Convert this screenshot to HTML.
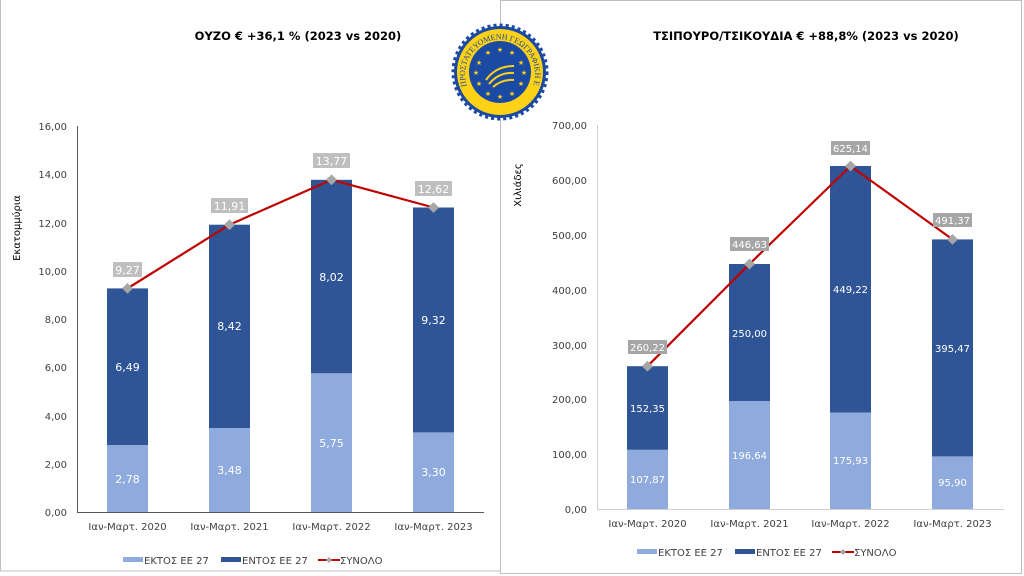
<!DOCTYPE html>
<html><head><meta charset="utf-8"><style>
body{margin:0;background:#fff;}
svg{display:block;font-family:"DejaVu Sans","Liberation Sans",sans-serif;}
</style></head><body>
<svg width="1024" height="576" viewBox="0 0 1024 576">
<rect x="0.5" y="-1" width="500" height="572" fill="none" stroke="#bfbfbf"/>
<rect x="500.5" y="0.5" width="521" height="573" fill="#fff" stroke="#bfbfbf"/>

<!-- LEFT CHART -->
<text x="298" y="40" text-anchor="middle" font-size="11.5" font-weight="bold" fill="#000">ΟΥΖΟ € +36,1 % (2023 vs 2020)</text>
<text transform="translate(20,228) rotate(-90)" text-anchor="middle" font-size="10" fill="#000">Εκατομμύρια</text>
<g font-size="10" fill="#404040" text-anchor="end">
<text x="67" y="516">0,00</text><text x="67" y="468">2,00</text><text x="67" y="420">4,00</text><text x="67" y="371">6,00</text><text x="67" y="323">8,00</text><text x="67" y="275">10,00</text><text x="67" y="227">12,00</text><text x="67" y="178">14,00</text><text x="67" y="130">16,00</text>
</g>
<line x1="77.5" y1="126" x2="77.5" y2="512" stroke="#595959"/>
<line x1="77" y1="512.5" x2="484" y2="512.5" stroke="#595959"/>
<g>
<rect x="107" y="445" width="41" height="67" fill="#8faadc"/><rect x="107" y="288.4" width="41" height="156.6" fill="#2f5597"/>
<rect x="209" y="428" width="41" height="84" fill="#8faadc"/><rect x="209" y="224.7" width="41" height="203.3" fill="#2f5597"/>
<rect x="311" y="373.3" width="41" height="138.7" fill="#8faadc"/><rect x="311" y="179.8" width="41" height="193.5" fill="#2f5597"/>
<rect x="413" y="432.4" width="41" height="79.6" fill="#8faadc"/><rect x="413" y="207.5" width="41" height="224.9" fill="#2f5597"/>
</g>
<g font-size="11" fill="#fff" text-anchor="middle">
<text x="127.5" y="483">2,78</text><text x="127.5" y="371">6,49</text>
<text x="229.5" y="474">3,48</text><text x="229.5" y="330">8,42</text>
<text x="331.5" y="447">5,75</text><text x="331.5" y="281">8,02</text>
<text x="433.5" y="476">3,30</text><text x="433.5" y="324">9,32</text>
</g>
<polyline points="127.5,288.4 229.5,224.7 331.5,179.8 433.5,207.5" fill="none" stroke="#c00000" stroke-width="2.2"/>
<g fill="#a6a6a6">
<path d="M127.5 283l5.5 5.4-5.5 5.4-5.5-5.4z"/><path d="M229.5 219.3l5.5 5.4-5.5 5.4-5.5-5.4z"/><path d="M331.5 174.4l5.5 5.4-5.5 5.4-5.5-5.4z"/><path d="M433.5 202.1l5.5 5.4-5.5 5.4-5.5-5.4z"/>
</g>
<g fill="#bfbfbf">
<rect x="113" y="262" width="29" height="15"/><rect x="211" y="198" width="37" height="15"/><rect x="313" y="153" width="37" height="15"/><rect x="415" y="181" width="37" height="15"/>
</g>
<g font-size="11" fill="#fff" text-anchor="middle">
<text x="127.5" y="274">9,27</text><text x="229.5" y="210">11,91</text><text x="331.5" y="165">13,77</text><text x="433.5" y="193">12,62</text>
</g>
<g font-size="10" fill="#404040" text-anchor="middle">
<text x="127.5" y="530">Ιαν-Μαρτ. 2020</text><text x="229.5" y="530">Ιαν-Μαρτ. 2021</text><text x="331.5" y="530">Ιαν-Μαρτ. 2022</text><text x="433.5" y="530">Ιαν-Μαρτ. 2023</text>
</g>
<g font-size="10" fill="#404040">
<rect x="123" y="557" width="20" height="5" fill="#8faadc"/><text x="144" y="564">ΕΚΤΟΣ ΕΕ 27</text>
<rect x="221" y="557" width="20" height="5" fill="#2f5597"/><text x="242" y="564">ΕΝΤΟΣ ΕΕ 27</text>
<line x1="318" y1="560" x2="340" y2="560" stroke="#c00000" stroke-width="2"/><path d="M329 557l3 3-3 3-3-3z" fill="#a6a6a6"/><text x="340" y="564">ΣΥΝΟΛΟ</text>
</g>

<!-- RIGHT CHART -->
<text x="806" y="40" text-anchor="middle" font-size="11.5" font-weight="bold" fill="#000">ΤΣΙΠΟΥΡΟ/ΤΣΙΚΟΥΔΙΑ € +88,8% (2023 vs 2020)</text>
<text transform="translate(521,185) rotate(-90)" text-anchor="middle" font-size="10" fill="#000">Χιλιάδες</text>
<g font-size="10" fill="#404040" text-anchor="end">
<text x="587" y="513">0,00</text><text x="587" y="458">100,00</text><text x="587" y="403">200,00</text><text x="587" y="349">300,00</text><text x="587" y="294">400,00</text><text x="587" y="239">500,00</text><text x="587" y="184">600,00</text><text x="587" y="129">700,00</text>
</g>
<line x1="597.5" y1="125" x2="597.5" y2="509" stroke="#d0d0d0"/>
<line x1="597" y1="509.5" x2="1004" y2="509.5" stroke="#d0d0d0"/>
<g>
<rect x="627" y="449.8" width="41" height="59.2" fill="#8faadc"/><rect x="627" y="366.2" width="41" height="83.6" fill="#2f5597"/>
<rect x="729" y="401.1" width="41" height="107.9" fill="#8faadc"/><rect x="729" y="264" width="41" height="137.1" fill="#2f5597"/>
<rect x="830" y="412.5" width="41" height="96.5" fill="#8faadc"/><rect x="830" y="166" width="41" height="246.5" fill="#2f5597"/>
<rect x="932" y="456.4" width="41" height="52.6" fill="#8faadc"/><rect x="932" y="239.4" width="41" height="217" fill="#2f5597"/>
</g>
<g font-size="10" fill="#fff" text-anchor="middle">
<text x="647.5" y="483">107,87</text><text x="647.5" y="412">152,35</text>
<text x="749.5" y="459">196,64</text><text x="749.5" y="337">250,00</text>
<text x="850.5" y="464">175,93</text><text x="850.5" y="293">449,22</text>
<text x="952.5" y="486">95,90</text><text x="952.5" y="352">395,47</text>
</g>
<polyline points="647.5,366.2 749.5,264 850.5,166 952.5,239.4" fill="none" stroke="#c00000" stroke-width="2.2"/>
<g fill="#a6a6a6">
<path d="M647.5 360.8l5.5 5.4-5.5 5.4-5.5-5.4z"/><path d="M749.5 258.6l5.5 5.4-5.5 5.4-5.5-5.4z"/><path d="M850.5 160.6l5.5 5.4-5.5 5.4-5.5-5.4z"/><path d="M952.5 234l5.5 5.4-5.5 5.4-5.5-5.4z"/>
</g>
<g fill="#a6a6a6">
<rect x="628" y="340" width="39" height="14"/><rect x="730" y="237" width="39" height="14"/><rect x="831" y="141" width="39" height="14"/><rect x="933" y="213" width="39" height="14"/>
</g>
<g font-size="10" fill="#fff" text-anchor="middle">
<text x="647.5" y="351">260,22</text><text x="749.5" y="248">446,63</text><text x="850.5" y="152">625,14</text><text x="952.5" y="224">491,37</text>
</g>
<g font-size="10" fill="#404040" text-anchor="middle">
<text x="647.5" y="527">Ιαν-Μαρτ. 2020</text><text x="749.5" y="527">Ιαν-Μαρτ. 2021</text><text x="850.5" y="527">Ιαν-Μαρτ. 2022</text><text x="952.5" y="527">Ιαν-Μαρτ. 2023</text>
</g>
<g font-size="10" fill="#404040">
<rect x="637" y="549" width="20" height="5" fill="#8faadc"/><text x="658" y="556">ΕΚΤΟΣ ΕΕ 27</text>
<rect x="735" y="549" width="20" height="5" fill="#2f5597"/><text x="756" y="556">ΕΝΤΟΣ ΕΕ 27</text>
<line x1="832" y1="552" x2="854" y2="552" stroke="#c00000" stroke-width="2"/><path d="M843 549l3 3-3 3-3-3z" fill="#a6a6a6"/><text x="854" y="556">ΣΥΝΟΛΟ</text>
</g>

<!-- LOGO -->
<g transform="translate(500,72)">
<circle r="46" fill="#1a4aa3" stroke="#1a4aa3" stroke-width="5" stroke-dasharray="3 3"/>
<circle r="43" fill="#fcd116"/>
<circle r="31" fill="#1a4aa3"/>
<g fill="#fcd116" font-size="7" text-anchor="middle">
<text x="0" y="-20">★</text><text x="12" y="-17">★</text><text x="-12" y="-17">★</text><text x="21" y="-7">★</text><text x="-21" y="-7">★</text><text x="24" y="3">★</text><text x="-24" y="3">★</text><text x="21" y="14">★</text><text x="-21" y="14">★</text><text x="12" y="24">★</text><text x="-12" y="24">★</text><text x="0" y="27">★</text>
</g>
<g fill="none" stroke="#fcd116" stroke-width="2">
<path d="M-14 8q10-14 28-14"/><path d="M-11 12q10-12 25-11"/><path d="M-7 15q9-8 21-7"/>
</g>
<path id="arc" d="M-33 14A35 35 0 1 1 33 14" fill="none"/>
<text font-size="8" fill="#1a4aa3" font-family="Liberation Serif,serif"><textPath href="#arc">ΠΡΟΣΤΑΤΕΥΟΜΕΝΗ ΓΕΩΓΡΑΦΙΚΗ ΕΝΔΕΙΞΗ</textPath></text>
</g>
</svg>
</body></html>
